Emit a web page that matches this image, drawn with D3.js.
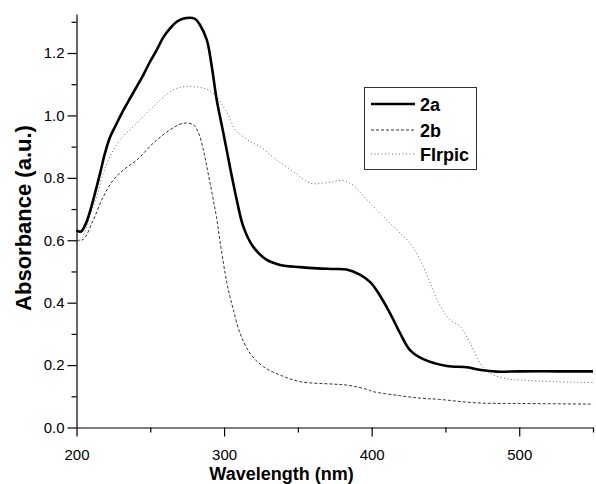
<!DOCTYPE html>
<html>
<head>
<meta charset="utf-8">
<script src="https://cdn.jsdelivr.net/npm/d3@7"></script>
<style>
  html, body { margin: 0; padding: 0; background: #fff; }
  svg { display: block; font-family: Arial, "Liberation Sans", sans-serif; }
</style>
</head>
<body>
<svg id="chart" width="596" height="484"></svg>
<script>
// Wavelength (nm) / absorbance (a.u.)
const wl2a = [200,203,206,209,212.5,216,219.3,222.7,227.3,231.7,236.3,240.8,245.3,249.8,254.4,258.8,263.4,267.9,272,280,283.7,288.3,291.7,295,299.5,304,308.6,313.1,319.9,329,338,351.5,363,375,383,392,399,404,412.5,419.3,426,435,451,464.5,474,485,500,525,550];
const abs2a = [0.632,0.628,0.650,0.690,0.750,0.815,0.879,0.930,0.975,1.016,1.055,1.092,1.130,1.172,1.210,1.250,1.279,1.300,1.310,1.310,1.290,1.242,1.156,1.050,0.944,0.835,0.729,0.643,0.578,0.537,0.521,0.514,0.510,0.508,0.506,0.490,0.466,0.435,0.366,0.302,0.248,0.219,0.197,0.193,0.184,0.179,0.180,0.180,0.180];

const wl2b = [200,204.6,211.4,218.2,225,231.7,240.8,252,263.4,272.4,279.2,282.6,286,288.3,290.5,292.7,295,297.3,301.8,304,306.3,310.8,317.6,326.6,338,351.5,374,383,397,401,419,432.9,446,471,500,550];
const abs2b = [0.598,0.603,0.665,0.740,0.793,0.825,0.857,0.911,0.954,0.975,0.970,0.945,0.889,0.836,0.783,0.729,0.670,0.595,0.465,0.419,0.377,0.302,0.238,0.195,0.168,0.147,0.139,0.136,0.122,0.115,0.102,0.094,0.090,0.079,0.077,0.075];

const wlFI = [200,204,209,213.7,218.2,222.7,229.5,240.8,252,263.4,270.2,279.2,288.3,292.7,295,299.5,303,308,313.1,317.6,324.4,335.7,347,358.3,367.3,374.1,380.9,387.7,396.7,405.8,417.1,426.1,432.9,439.7,446.4,453.2,460,466.8,473.6,480.3,491.7,500.7,523.3,550];
const absFI = [0.595,0.610,0.676,0.740,0.815,0.868,0.921,0.975,1.028,1.076,1.090,1.092,1.084,1.071,1.060,1.028,1.000,0.950,0.932,0.916,0.900,0.857,0.820,0.783,0.783,0.788,0.791,0.775,0.730,0.686,0.633,0.590,0.537,0.462,0.390,0.345,0.323,0.270,0.206,0.174,0.156,0.152,0.147,0.144];

const seriesNames = ["2a", "2b", "FIrpic"];
const xMajorTicks = [200, 300, 400, 500];
const xMinorTicks = [250, 350, 450, 550];
const yMajorTicks = [0.0, 0.2, 0.4, 0.6, 0.8, 1.0, 1.2];
const yMinorTicks = [0.1, 0.3, 0.5, 0.7, 0.9, 1.1, 1.3];

const svg = d3.select("#chart");
const x = d3.scaleLinear().domain([200, 550]).range([76.5, 593]);
const y = d3.scaleLinear().domain([0, 1.325]).range([427.5, 14]);

const styles = [
  { stroke: "#000", width: 2.6, dash: null },
  { stroke: "#333", width: 1, dash: "3,2" },
  { stroke: "#666", width: 1, dash: "1,2.5" }
];
const data = [
  d3.zip(wl2a, abs2a),
  d3.zip(wl2b, abs2b),
  d3.zip(wlFI, absFI)
];

const line = d3.line().x(d => x(d[0])).y(d => y(d[1])).curve(d3.curveCatmullRom.alpha(0.5));

// draw in order FIrpic, 2b, 2a so solid is on top
[2, 1, 0].forEach(i => {
  svg.append("path")
    .datum(data[i])
    .attr("fill", "none")
    .attr("stroke", styles[i].stroke)
    .attr("stroke-width", styles[i].width)
    .attr("stroke-dasharray", styles[i].dash)
    .attr("stroke-linejoin", "round")
    .attr("d", line);
});

// X axis
const xAxis = svg.append("g").attr("transform", `translate(0,${y(0)})`);
xAxis.call(d3.axisBottom(x).tickValues(xMajorTicks).tickSize(9).tickSizeOuter(0).tickFormat(d3.format("d")));
xAxis.select(".domain").attr("stroke", "#000").attr("stroke-width", 1.2);
xAxis.selectAll(".tick line").attr("stroke", "#000").attr("stroke-width", 1.2);
xAxis.selectAll(".tick text").attr("font-size", 15).attr("fill", "#000").attr("dy", "1.35em")
  .attr("font-family", "Arial, 'Liberation Sans', sans-serif");
const xMinor = svg.append("g").attr("transform", `translate(0,${y(0)})`);
xMinor.call(d3.axisBottom(x).tickValues(xMinorTicks).tickSize(5).tickSizeOuter(0).tickFormat(""));
xMinor.select(".domain").remove();
xMinor.selectAll(".tick line").attr("stroke", "#000").attr("stroke-width", 1.2);

// Y axis
const yAxis = svg.append("g").attr("transform", `translate(${x(200)},0)`);
yAxis.call(d3.axisLeft(y).tickValues(yMajorTicks).tickSize(9).tickSizeOuter(0).tickFormat(d3.format(".1f")));
yAxis.select(".domain").attr("stroke", "#000").attr("stroke-width", 1.2);
yAxis.selectAll(".tick line").attr("stroke", "#000").attr("stroke-width", 1.2);
yAxis.selectAll(".tick text").attr("font-size", 15).attr("fill", "#000").attr("x", -12)
  .attr("font-family", "Arial, 'Liberation Sans', sans-serif");
const yMinor = svg.append("g").attr("transform", `translate(${x(200)},0)`);
yMinor.call(d3.axisLeft(y).tickValues(yMinorTicks).tickSize(5).tickSizeOuter(0).tickFormat(""));
yMinor.select(".domain").remove();
yMinor.selectAll(".tick line").attr("stroke", "#000").attr("stroke-width", 1.2);

// Axis titles
svg.append("text")
  .attr("x", 281.5).attr("y", 480)
  .attr("text-anchor", "middle")
  .attr("font-size", 18).attr("font-weight", "bold")
  .text("Wavelength (nm)");
svg.append("text")
  .attr("transform", "translate(31,218) rotate(-90)")
  .attr("text-anchor", "middle")
  .attr("font-size", 22).attr("font-weight", "bold")
  .text("Absorbance (a.u.)");

// Legend
const legend = svg.append("g");
legend.append("rect")
  .attr("x", 364.5).attr("y", 87.5).attr("width", 112).attr("height", 82)
  .attr("fill", "#fff").attr("stroke", "#333").attr("stroke-width", 1);
const legY = [104, 130, 154];
seriesNames.forEach((name, i) => {
  legend.append("line")
    .attr("x1", 371).attr("x2", 415).attr("y1", legY[i]).attr("y2", legY[i])
    .attr("stroke", styles[i].stroke).attr("stroke-width", styles[i].width)
    .attr("stroke-dasharray", styles[i].dash);
  legend.append("text")
    .attr("x", 420).attr("y", legY[i] + 6.5)
    .attr("font-size", 18).attr("font-weight", "bold")
    .text(name);
});
</script>
</body>
</html>
